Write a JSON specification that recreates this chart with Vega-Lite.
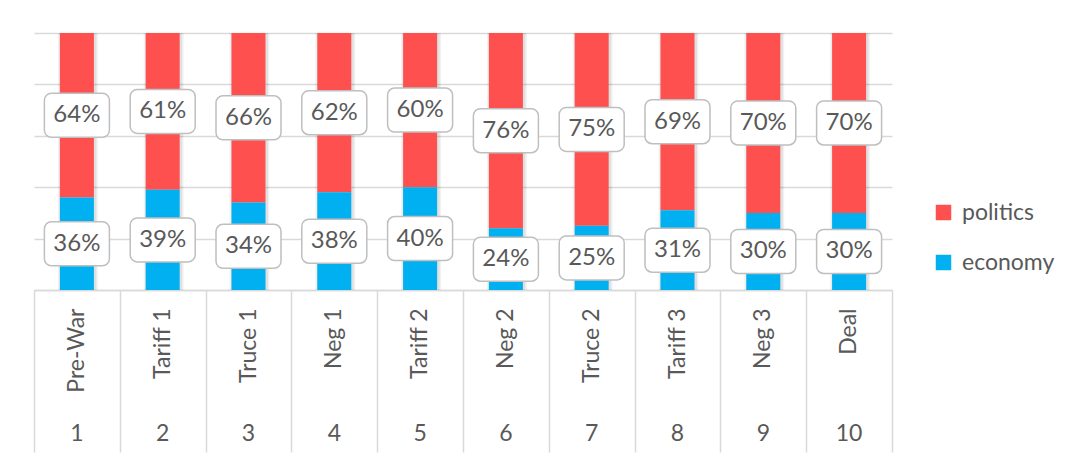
{
  "$schema": "https://vega.github.io/schema/vega-lite/v6.json",
  "width": 858,
  "height": 257,
  "padding": {"left": 33, "top": 33, "right": 0, "bottom": 0},
  "background": "white",
  "config": {
    "font": "Lato",
    "view": {"stroke": null},
    "axis": {"labelFont": "Lato", "labelColor": "#595959", "labelFontSize": 22}
  },
  "data": {
    "values": [
      {"n": 1, "phase": "Pre-War", "party": "politics", "share": 0.64},
      {"n": 1, "phase": "Pre-War", "party": "economy", "share": 0.36},
      {"n": 2, "phase": "Tariff 1", "party": "politics", "share": 0.61},
      {"n": 2, "phase": "Tariff 1", "party": "economy", "share": 0.39},
      {"n": 3, "phase": "Truce 1", "party": "politics", "share": 0.66},
      {"n": 3, "phase": "Truce 1", "party": "economy", "share": 0.34},
      {"n": 4, "phase": "Neg 1", "party": "politics", "share": 0.62},
      {"n": 4, "phase": "Neg 1", "party": "economy", "share": 0.38},
      {"n": 5, "phase": "Tariff 2", "party": "politics", "share": 0.60},
      {"n": 5, "phase": "Tariff 2", "party": "economy", "share": 0.40},
      {"n": 6, "phase": "Neg 2", "party": "politics", "share": 0.76},
      {"n": 6, "phase": "Neg 2", "party": "economy", "share": 0.24},
      {"n": 7, "phase": "Truce 2", "party": "politics", "share": 0.75},
      {"n": 7, "phase": "Truce 2", "party": "economy", "share": 0.25},
      {"n": 8, "phase": "Tariff 3", "party": "politics", "share": 0.69},
      {"n": 8, "phase": "Tariff 3", "party": "economy", "share": 0.31},
      {"n": 9, "phase": "Neg 3", "party": "politics", "share": 0.70},
      {"n": 9, "phase": "Neg 3", "party": "economy", "share": 0.30},
      {"n": 10, "phase": "Deal", "party": "politics", "share": 0.70},
      {"n": 10, "phase": "Deal", "party": "economy", "share": 0.30}
    ]
  },
  "resolve": {"scale": {"x": "shared", "y": "shared"}, "axis": {"x": "independent", "y": "shared"}},
  "layer": [
    {
      "mark": {"type": "bar", "width": 40, "color": "#000000", "opacity": 0.05, "xOffset": 1},
      "encoding": {
        "x": {
          "field": "phase", "type": "nominal",
          "sort": ["Pre-War", "Tariff 1", "Truce 1", "Neg 1", "Tariff 2", "Neg 2", "Truce 2", "Tariff 3", "Neg 3", "Deal"],
          "axis": null
        },
        "y": {"field": "share", "type": "quantitative", "stack": "normalize"}
      }
    },
    {
      "mark": {"type": "bar", "width": 37, "color": "#000000", "opacity": 0.07, "xOffset": 1},
      "encoding": {
        "x": {
          "field": "phase", "type": "nominal",
          "sort": ["Pre-War", "Tariff 1", "Truce 1", "Neg 1", "Tariff 2", "Neg 2", "Truce 2", "Tariff 3", "Neg 3", "Deal"],
          "axis": null
        },
        "y": {"field": "share", "type": "quantitative", "stack": "normalize"}
      }
    },
    {
      "mark": {"type": "bar", "width": 34},
      "encoding": {
        "x": {
          "field": "phase", "type": "nominal",
          "sort": ["Pre-War", "Tariff 1", "Truce 1", "Neg 1", "Tariff 2", "Neg 2", "Truce 2", "Tariff 3", "Neg 3", "Deal"],
          "scale": {"paddingInner": 0, "paddingOuter": 0},
          "axis": {
            "orient": "bottom", "title": null, "labelAngle": -90, "labelAlign": "right", "labelBaseline": "middle",
            "labelPadding": 18, "labelFontSize": 23, "ticks": false, "domain": true,
            "domainColor": "#d9d9d9", "domainWidth": 1.5
          }
        },
        "y": {
          "field": "share", "type": "quantitative", "stack": "normalize",
          "scale": {"domain": [0, 1], "nice": false},
          "axis": {
            "title": null, "labels": false, "ticks": false, "domain": false,
            "values": [0, 0.1, 0.2, 0.3, 0.4, 0.5, 0.6, 0.7, 0.8, 0.9, 1],
            "grid": true, "gridColor": "#d9d9d9", "gridWidth": 1.5
          }
        },
        "order": {"field": "party", "sort": "ascending"},
        "color": {
          "field": "party", "type": "nominal",
          "scale": {"domain": ["politics", "economy"], "range": ["#ff5050", "#00b0f0"]},
          "legend": {
            "title": null, "orient": "none", "legendX": 898, "legendY": 168,
            "symbolType": "square", "symbolSize": 240, "symbolStrokeWidth": 0,
            "labelFont": "Lato", "labelFontSize": 23, "labelColor": "#595959",
            "rowPadding": 26, "labelOffset": 7
          }
        }
      }
    },
    {
      "transform": [
        {"stack": "share", "groupby": ["phase"], "sort": [{"field": "party"}], "offset": "normalize", "as": ["lo", "hi"]},
        {"fold": ["lo", "hi"], "as": ["edge", "pos"]},
        {"aggregate": [{"op": "mean", "field": "pos", "as": "mid"}], "groupby": ["phase", "n", "party", "share"]}
      ],
      "mark": {
        "type": "bar", "width": 65, "fill": "white", "stroke": "#bfbfbf", "strokeWidth": 1.5,
        "cornerRadius": 7, "yOffset": -22, "y2Offset": 22
      },
      "encoding": {
        "x": {
          "field": "phase", "type": "nominal",
          "sort": ["Pre-War", "Tariff 1", "Truce 1", "Neg 1", "Tariff 2", "Neg 2", "Truce 2", "Tariff 3", "Neg 3", "Deal"],
          "axis": {
            "orient": "bottom", "title": null, "labelAngle": 0, "labelAlign": "center", "labelBaseline": "top",
            "labelPadding": 132, "labelFontSize": 23, "ticks": false, "domain": false,
            "labelExpr": "indexof(domain('x'), datum.value) + 1"
          }
        },
        "y": {"field": "mid", "type": "quantitative"},
        "y2": {"field": "mid"}
      }
    },
    {
      "transform": [
        {"stack": "share", "groupby": ["phase"], "sort": [{"field": "party"}], "offset": "normalize", "as": ["lo", "hi"]},
        {"fold": ["lo", "hi"], "as": ["edge", "pos"]},
        {"aggregate": [{"op": "mean", "field": "pos", "as": "mid"}], "groupby": ["phase", "n", "party", "share"]}
      ],
      "mark": {"type": "text", "font": "Lato", "fontSize": 24, "color": "#595959", "baseline": "middle", "align": "center"},
      "encoding": {
        "x": {
          "field": "phase", "type": "nominal",
          "sort": ["Pre-War", "Tariff 1", "Truce 1", "Neg 1", "Tariff 2", "Neg 2", "Truce 2", "Tariff 3", "Neg 3", "Deal"],
          "axis": {
            "orient": "bottom", "title": null, "labels": false, "domain": false, "ticks": true,
            "tickBand": "extent", "tickSize": 162, "tickColor": "#d9d9d9", "tickWidth": 1.5
          }
        },
        "y": {"field": "mid", "type": "quantitative"},
        "text": {"field": "share", "type": "quantitative", "format": ".0%"}
      }
    }
  ]
}
